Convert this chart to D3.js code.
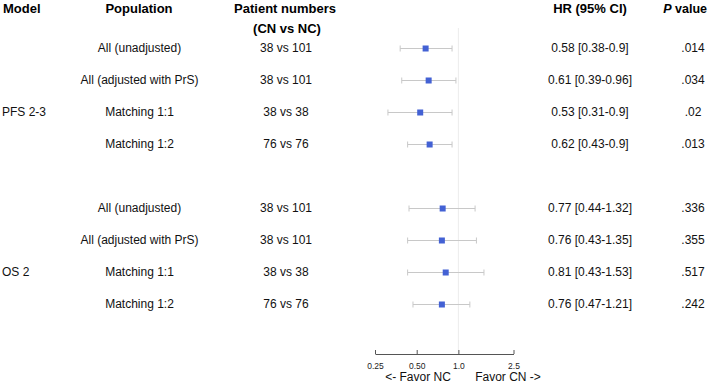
<!DOCTYPE html>
<html><head><meta charset="utf-8">
<script src="https://cdn.jsdelivr.net/npm/d3@7"></script>
<style>body{margin:0;background:#fff}svg{display:block}</style>
</head><body><svg id="c" width="709" height="385"></svg>
<script>
const models = ["", "", "PFS 2-3", "", null, "", "", "OS 2", ""];
const populations = ["All (unadjusted)","All (adjusted with PrS)","Matching 1:1","Matching 1:2",null,"All (unadjusted)","All (adjusted with PrS)","Matching 1:1","Matching 1:2"];
const patients = ["38 vs 101","38 vs 101","38 vs 38","76 vs 76",null,"38 vs 101","38 vs 101","38 vs 38","76 vs 76"];
const hr = [0.58,0.61,0.53,0.62,null,0.77,0.76,0.81,0.76];
const lower = [0.38,0.39,0.31,0.43,null,0.44,0.43,0.43,0.47];
const upper = [0.9,0.96,0.9,0.9,null,1.32,1.35,1.53,1.21];
const hrLabels = ["0.58 [0.38-0.9]","0.61 [0.39-0.96]","0.53 [0.31-0.9]","0.62 [0.43-0.9]",null,"0.77 [0.44-1.32]","0.76 [0.43-1.35]","0.81 [0.43-1.53]","0.76 [0.47-1.21]"];
const pValues = [".014",".034",".02",".013",null,".336",".355",".517",".242"];
const tickValues = [0.25,0.5,1.0,2.5];
const tickLabels = ["0.25","0.50","1.0","2.5"];

const svg = d3.select("#c");
const font = "'Liberation Sans', Arial, sans-serif";
const x = d3.scaleLog().domain([0.25,2.5]).range([375,513.5]);
const y = d3.scaleLinear().domain([0,8]).range([48,304]);

// headers
const hdr = svg.append("g").attr("font-family",font).attr("font-weight","bold").attr("font-size",13).attr("fill","#000");
hdr.append("text").attr("x",3).attr("y",13).text("Model");
hdr.append("text").attr("x",139).attr("y",13).attr("text-anchor","middle").text("Population");
hdr.append("text").attr("x",285).attr("y",13).attr("text-anchor","middle").text("Patient numbers");
hdr.append("text").attr("x",287).attr("y",33).attr("text-anchor","middle").text("(CN vs NC)");
hdr.append("text").attr("x",590).attr("y",13).attr("text-anchor","middle").text("HR (95% CI)");
const pv = hdr.append("text").attr("x",707).attr("y",13).attr("text-anchor","end").attr("font-size",12.5);
pv.append("tspan").attr("font-style","italic").text("P");
pv.append("tspan").text(" value");

// reference line
svg.append("line").attr("x1",x(1)).attr("x2",x(1)).attr("y1",28).attr("y2",354)
  .attr("stroke","#ececec").attr("stroke-width",1);

const idx = d3.range(hr.length).filter(i => hr[i] !== null);
const g = svg.append("g").attr("font-family",font).attr("font-size",12).attr("fill","#111");
models.forEach((m,i)=>{ if(m) g.append("text").attr("x",2).attr("y",y(i)+4).text(m); });
idx.forEach(i=>{
  g.append("text").attr("x",139.5).attr("y",y(i)+4).attr("text-anchor","middle").text(populations[i]);
  g.append("text").attr("x",286).attr("y",y(i)+4).attr("text-anchor","middle").text(patients[i]);
  g.append("text").attr("x",590).attr("y",y(i)+4).attr("text-anchor","middle").text(hrLabels[i]);
  g.append("text").attr("x",693).attr("y",y(i)+4).attr("text-anchor","middle").text(pValues[i]);
});

// CI lines
const ci = svg.append("g").attr("stroke","#c8c8c8").attr("stroke-width",1);
idx.forEach(i=>{
  const yy = Math.round(y(i))+0.5;
  ci.append("line").attr("x1",x(lower[i])).attr("x2",x(upper[i])).attr("y1",yy).attr("y2",yy);
  ci.append("line").attr("x1",x(lower[i])).attr("x2",x(lower[i])).attr("y1",yy-3).attr("y2",yy+3);
  ci.append("line").attr("x1",x(upper[i])).attr("x2",x(upper[i])).attr("y1",yy-3).attr("y2",yy+3);
});
svg.append("g").selectAll("rect").data(idx).join("rect")
  .attr("x",i=>x(hr[i])-3).attr("y",i=>Math.round(y(i))-2.5).attr("width",6).attr("height",6)
  .attr("fill","#4361d4");

// axis
const axis = d3.axisBottom(x).tickValues(tickValues).tickFormat((d,i)=>tickLabels[i]).tickSize(4).tickSizeOuter(0);
const ax = svg.append("g").attr("transform","translate(0,354)").call(axis);
ax.select(".domain").attr("stroke","#555");
ax.selectAll(".tick line").attr("stroke","#555").attr("y2",-4);
ax.selectAll(".tick text").attr("y",9).attr("font-family",font).attr("font-size",8.5).attr("fill","#222");

svg.append("text").attr("x",418).attr("y",381).attr("text-anchor","middle").attr("font-family",font).attr("font-size",12).attr("fill","#111").text("<- Favor NC");
svg.append("text").attr("x",508).attr("y",381).attr("text-anchor","middle").attr("font-family",font).attr("font-size",12).attr("fill","#111").text("Favor CN ->");
</script></body></html>
